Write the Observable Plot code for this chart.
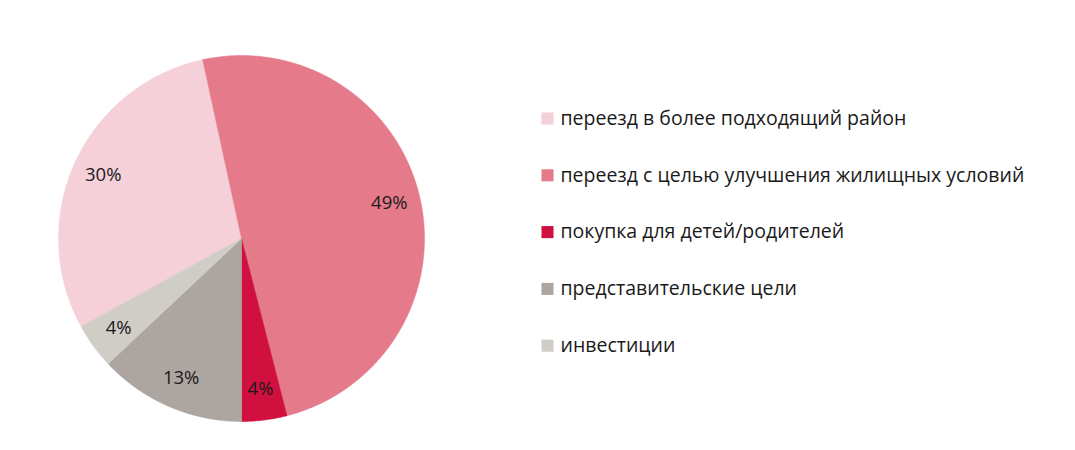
<!DOCTYPE html>
<html>
<head>
<meta charset="utf-8">
<script src="https://cdn.jsdelivr.net/npm/d3@7"></script>
<script src="https://cdn.jsdelivr.net/npm/@observablehq/plot@0.6"></script>
<style>
  html, body { margin: 0; padding: 0; background: #fff; }
  #chart svg { display: block; }
</style>
</head>
<body>
<div id="chart"></div>
<script>
const categories = [
  "переезд в более подходящий район",
  "переезд с целью улучшения жилищных условий",
  "покупка для детей/родителей",
  "представительские цели",
  "инвестиции"
];
const values = [29.6, 49.4, 4, 13, 4];
const labels = ["30%", "49%", "4%", "13%", "4%"];
const colors = ["#F5D0D8", "#E47A8A", "#D0103F", "#ADA59F", "#D0CCC6"];

const W = 1075, H = 450;
const cx = 241, cy = 238, R = 183;
const startDeg = 241.2;

const pie = d3.pie().sort(null).value(d => d)
  .startAngle(startDeg * Math.PI / 180)
  .endAngle(startDeg * Math.PI / 180 + 2 * Math.PI)(values);

const pt = (a, r) => ({ x: cx + r * Math.sin(a), y: cy - r * Math.cos(a) });

const polys = [];
pie.forEach((p, i) => {
  const n = Math.max(4, Math.ceil((p.endAngle - p.startAngle) / 0.01));
  polys.push({ cat: categories[i], x: cx, y: cy });
  for (let k = 0; k <= n; k++) {
    const a = p.startAngle + (p.endAngle - p.startAngle) * k / n;
    polys.push({ cat: categories[i], ...pt(a, R) });
  }
});

const labelData = pie.map((p, i) => ({ label: labels[i], ...pt((p.startAngle + p.endAngle) / 2, R * 0.83) }));

const legendData = categories.map((c, i) => ({ cat: c, i }));
const legX = 547, legY0 = 118, legStep = 56.8;

const chart = Plot.plot({
  width: W, height: H,
  margin: 0,
  x: { domain: [0, W], range: [0, W], axis: null },
  y: { domain: [0, H], range: [0, H], axis: null },
  color: { domain: categories, range: colors },
  style: { fontFamily: "'Open Sans', sans-serif" },
  marks: [
    Plot.line(polys, { x: "x", y: "y", z: "cat", fill: "cat", stroke: "cat", strokeWidth: 0.5, curve: "linear-closed" }),
    Plot.text(labelData, { x: "x", y: "y", text: "label", fontSize: 18.5, fill: "#1a1a1a" }),
    Plot.dot(legendData, { x: () => legX, y: d => legY0 + d.i * legStep, symbol: "square", r: 6.8, fill: "cat" }),
    Plot.text(legendData, { x: () => legX + 13, y: d => legY0 + d.i * legStep, text: "cat", textAnchor: "start", fontSize: 19.5, fill: "#1a1a1a" })
  ]
});
document.getElementById("chart").appendChild(chart);
</script>
</body>
</html>
